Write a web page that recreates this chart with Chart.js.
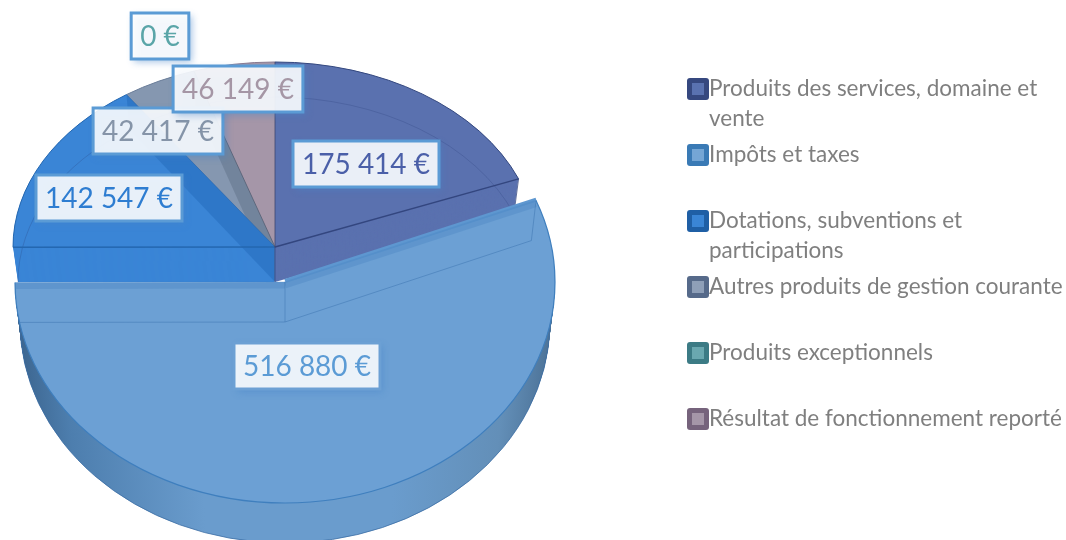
<!DOCTYPE html>
<html>
<head>
<meta charset="utf-8">
<style>
  html, body { margin: 0; padding: 0; background: #ffffff; overflow: hidden; }
  canvas { display: block; }
</style>
<script src="https://cdn.jsdelivr.net/npm/chart.js@4"></script>
</head>
<body>
<canvas id="pie_chart" width="1066" height="540"></canvas>
<script>
const categories = [
    "Produits des services, domaine et vente",
    "Impôts et taxes",
    "Dotations, subventions et participations",
    "Autres produits de gestion courante",
    "Produits exceptionnels",
    "Résultat de fonctionnement reporté"
];
const values = [175414, 516880, 142547, 42417, 0, 46149];

const face_colors = ["#5a71af", "#6ca0d4", "#3a85d6", "#8597b0", "#6aa8b0", "#a596a8"];
const rim_colors = ["#34487f", "#3f7fbe", "#2467b0", "#6a7d99", "#3c7b85", "#8a7a90"];
const legend_border = ["#36487f", "#3a7ab5", "#1f5fa5", "#566a8a", "#3c7b85", "#76637c"];
const legend_inner = ["#5a72b0", "#75a6d5", "#3a85d5", "#8e9fb8", "#6aa8b0", "#a596a8"];
const label_colors = ["#4a5fa8", "#5b9bd5", "#2e7dd1", "#8594a8", "#5aa5a8", "#a596a5"];
// centre of each value box
const label_x = [366, 307, 109, 158, 160, 238];
const label_y = [164, 366, 198, 131, 36, 89];

const back_frame = { cx: 275, cy: 247, rx: 262, ry: 185, wall: 35 };
const front_frame = { cx: 285, cy: 282, rx: 270, ry: 221, wall: 40 };
const shrink = 5;

function frame_of(index) {
    return index == 1 ? front_frame : back_frame;
}

function rx_at(frame, dy) {
    return frame.rx - shrink * dy / frame.wall;
}

function rim_point(frame, angle, dy) {
    return [frame.cx + rx_at(frame, dy) * Math.cos(angle), frame.cy + dy + frame.ry * Math.sin(angle)];
}

// draws the library's arc squashed into the pie's ellipse
function draw_arc(ctx, arc, frame, dy, color) {
    const radius = arc.outerRadius;
    const old_options = arc.options;
    arc.options = Object.assign({}, old_options, { backgroundColor: color, borderWidth: 0 });
    ctx.save();
    ctx.translate(frame.cx, frame.cy + dy);
    ctx.scale(rx_at(frame, dy) / radius, frame.ry / radius);
    ctx.translate(-arc.x, -arc.y);
    arc.draw(ctx);
    ctx.restore();
    arc.options = old_options;
}

function stroke_rim(ctx, arc, frame, dy, color, width) {
    ctx.beginPath();
    ctx.ellipse(frame.cx, frame.cy + dy, rx_at(frame, dy), frame.ry, 0, arc.startAngle, arc.endAngle);
    ctx.strokeStyle = color;
    ctx.lineWidth = width;
    ctx.stroke();
}

function stroke_edge(ctx, frame, angle, dy, color, width) {
    const p = rim_point(frame, angle, dy);
    ctx.beginPath();
    ctx.moveTo(frame.cx, frame.cy + dy);
    ctx.lineTo(p[0], p[1]);
    ctx.strokeStyle = color;
    ctx.lineWidth = width;
    ctx.stroke();
}

function fill_cut_face(ctx, frame, angle, color) {
    const top = rim_point(frame, angle, 0);
    const bottom = rim_point(frame, angle, frame.wall);
    ctx.beginPath();
    ctx.moveTo(frame.cx, frame.cy);
    ctx.lineTo(top[0], top[1]);
    ctx.lineTo(bottom[0], bottom[1]);
    ctx.lineTo(frame.cx, frame.cy + frame.wall);
    ctx.closePath();
    ctx.fillStyle = color;
    ctx.fill();
}

function draw_back_slice(ctx, arcs, index) {
    const arc = arcs[index];
    if (values[index] == 0) return;
    const frame = back_frame;
    for (let dy = frame.wall; dy >= 0; dy--) {
        draw_arc(ctx, arc, frame, dy, face_colors[index]);
    }
    if (index == 2 || index == 3) {
        fill_cut_face(ctx, frame, arc.endAngle, index == 2 ? "rgba(20,90,170,0.30)" : "rgba(60,75,95,0.25)");
    }
    if (index == 5) {
        fill_cut_face(ctx, frame, arc.startAngle, "rgba(120,130,150,0.30)");
    }
    stroke_rim(ctx, arc, frame, frame.wall, "rgba(40,60,120,0.25)", 1);
    stroke_rim(ctx, arc, frame, 0, rim_colors[index], 1);
}

function draw_front_slice(ctx, arc) {
    const frame = front_frame;
    const radius = arc.outerRadius;
    const wall_color = ctx.createLinearGradient(arc.x - radius, 0, arc.x + radius, 0);
    wall_color.addColorStop(0, "#3c658f");
    wall_color.addColorStop(0.1, "#4d7eae");
    wall_color.addColorStop(0.35, "#6a9ccd");
    wall_color.addColorStop(0.7, "#6a9ccd");
    wall_color.addColorStop(0.9, "#638fb8");
    wall_color.addColorStop(1, "#4c7297");
    for (let dy = frame.wall; dy > 0; dy--) {
        draw_arc(ctx, arc, frame, dy, wall_color);
    }
    stroke_rim(ctx, arc, frame, frame.wall, "rgba(60,110,165,0.8)", 1);
    draw_arc(ctx, arc, frame, 0, face_colors[1]);
    // the see-through cut faces of the pulled out slice
    const a = arc.startAngle;
    const b = arc.endAngle;
    stroke_edge(ctx, frame, a, -1, "#5e97d0", 4);
    stroke_edge(ctx, frame, b, 3, "rgba(65,125,190,0.30)", 7);
    stroke_edge(ctx, frame, a, 3, "rgba(65,125,190,0.30)", 7);
    stroke_edge(ctx, frame, b, frame.wall, "rgba(60,115,175,0.5)", 1);
    stroke_edge(ctx, frame, a, frame.wall, "rgba(60,115,175,0.5)", 1);
    const p = rim_point(frame, a, 0);
    const q = rim_point(frame, a, frame.wall);
    ctx.beginPath();
    ctx.moveTo(p[0], p[1]);
    ctx.lineTo(q[0], q[1]);
    ctx.moveTo(frame.cx, frame.cy);
    ctx.lineTo(frame.cx, frame.cy + frame.wall);
    ctx.strokeStyle = "rgba(60,115,175,0.5)";
    ctx.lineWidth = 1;
    ctx.stroke();
    stroke_rim(ctx, arc, frame, 0, "#3f7fbe", 1.2);
}

function format_value(value) {
    return String(value).replace(/\B(?=(\d{3})+$)/g, " ") + " €";
}

function draw_value_boxes(ctx) {
    ctx.save();
    ctx.font = "28px Lato";
    ctx.textAlign = "center";
    ctx.textBaseline = "middle";
    for (let i = 0; i < values.length; i++) {
        const text = format_value(values[i]);
        const width = ctx.measureText(text).width + 18;
        const x = label_x[i] - width / 2;
        const y = label_y[i] - 23;
        ctx.save();
        ctx.shadowColor = "rgba(70,130,200,0.55)";
        ctx.shadowBlur = 7;
        ctx.shadowOffsetX = 3;
        ctx.shadowOffsetY = 3;
        ctx.fillStyle = "rgba(255,255,255,0.88)";
        ctx.fillRect(x, y, width, 46);
        ctx.restore();
        ctx.strokeStyle = i == 1 ? "#6ca0d4" : "#5b9bd5";
        ctx.lineWidth = 3;
        ctx.strokeRect(x, y, width, 46);
        ctx.fillStyle = label_colors[i];
        ctx.fillText(text, label_x[i], label_y[i] + 1);
    }
    ctx.restore();
}

function wrap_text(ctx, text, max_width) {
    const lines = [];
    let line = "";
    text.split(" ").forEach(function (word) {
        const next = line == "" ? word : line + " " + word;
        if (ctx.measureText(next).width > max_width) {
            lines.push(line);
            line = word;
        } else {
            line = next;
        }
    });
    lines.push(line);
    return lines;
}

function draw_legend(ctx) {
    ctx.save();
    ctx.font = "22.5px Lato";
    ctx.textAlign = "left";
    ctx.textBaseline = "middle";
    for (let i = 0; i < categories.length; i++) {
        const y = 89 + 66 * i;
        ctx.beginPath();
        ctx.roundRect(687, y - 11, 22, 22, 3);
        ctx.fillStyle = legend_border[i];
        ctx.fill();
        ctx.fillStyle = legend_inner[i];
        ctx.fillRect(692, y - 6, 12, 12);
        ctx.fillStyle = "#7f7f7f";
        wrap_text(ctx, categories[i], 355).forEach(function (line, n) {
            ctx.fillText(line, 709, y + n * 30);
        });
    }
    ctx.restore();
}

const pie_3d_plugin = {
    id: "pie_3d",
    beforeDatasetsDraw: function (chart) {
        const ctx = chart.ctx;
        const arcs = chart.getDatasetMeta(0).data;
        [5, 3, 2, 0].forEach(function (index) {
            draw_back_slice(ctx, arcs, index);
        });
        // edges between the slices at the back
        stroke_edge(ctx, back_frame, arcs[0].endAngle, 0, "#33467f", 1.5);
        stroke_edge(ctx, back_frame, arcs[2].startAngle, 0, "#2467b0", 1.5);
        stroke_edge(ctx, back_frame, arcs[3].startAngle, 0, "rgba(40,100,170,0.6)", 1);
        stroke_edge(ctx, back_frame, arcs[5].startAngle, 0, "rgba(80,90,110,0.7)", 1);
        stroke_edge(ctx, back_frame, arcs[0].startAngle, 0, "rgba(60,70,110,0.8)", 1);
        ctx.beginPath();
        ctx.moveTo(back_frame.cx, back_frame.cy);
        ctx.lineTo(back_frame.cx, back_frame.cy + back_frame.wall);
        ctx.strokeStyle = "rgba(40,60,120,0.6)";
        ctx.lineWidth = 1;
        ctx.stroke();
        const end_top = rim_point(back_frame, arcs[0].endAngle, 0);
        const end_bottom = rim_point(back_frame, arcs[0].endAngle, back_frame.wall);
        ctx.beginPath();
        ctx.moveTo(end_top[0], end_top[1]);
        ctx.lineTo(end_bottom[0], end_bottom[1]);
        ctx.strokeStyle = "rgba(40,60,120,0.7)";
        ctx.stroke();
        draw_front_slice(ctx, arcs[1]);
        draw_value_boxes(ctx);
        draw_legend(ctx);
        return false;
    }
};

var pie_chart = new Chart(document.getElementById("pie_chart"), {
    type: "pie",
    data: {
        labels: categories,
        datasets: [{
            data: values,
            backgroundColor: face_colors,
            borderWidth: 0
        }]
    },
    options: {
        responsive: false,
        animation: false,
        plugins: {
            legend: { display: false },
            tooltip: { enabled: false }
        }
    },
    plugins: [pie_3d_plugin]
});
</script>
</body>
</html>
